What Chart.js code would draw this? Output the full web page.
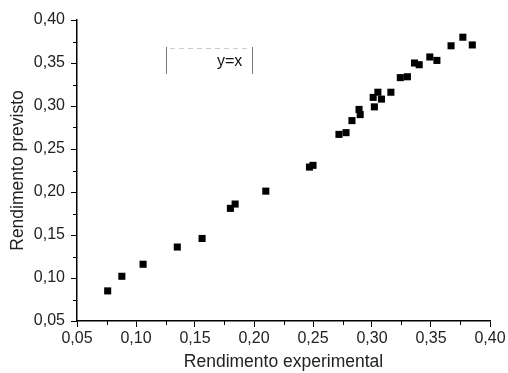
<!DOCTYPE html>
<html>
<head>
<meta charset="utf-8">
<script src="https://cdn.jsdelivr.net/npm/chart.js@4"></script>
<style>
  html, body { margin: 0; padding: 0; background: #fff; }
  #wrap { width: 508px; height: 373px; }
</style>
</head>
<body>
<div id="wrap"><canvas id="chart" width="508" height="373"></canvas></div>
<script>
// valori
const experimental = [0.076, 0.088, 0.106, 0.135, 0.156, 0.180, 0.184, 0.210,
  0.247, 0.250, 0.272, 0.278, 0.283, 0.289, 0.290, 0.302, 0.301, 0.305, 0.308,
  0.316, 0.324, 0.330, 0.336, 0.340, 0.349, 0.355, 0.367, 0.377, 0.385];
const predicted = [0.085, 0.102, 0.116, 0.136, 0.146, 0.181, 0.186, 0.201,
  0.229, 0.231, 0.267, 0.269, 0.283, 0.296, 0.290, 0.299, 0.310, 0.316, 0.308,
  0.316, 0.333, 0.334, 0.350, 0.348, 0.357, 0.353, 0.370, 0.380, 0.371];
const xTicks = [0.05, 0.10, 0.15, 0.20, 0.25, 0.30, 0.35, 0.40];
const yTicks = [0.05, 0.10, 0.15, 0.20, 0.25, 0.30, 0.35, 0.40];
const legendLabel = 'y=x';

const points = experimental.map((x, i) => ({x: x, y: predicted[i]}));
const fmt = v => v.toFixed(2).replace('.', ',');
const FONT = '"Liberation Sans", Arial, sans-serif';

// tacche secondarie a metà fra le principali
const minorTicks = {
  id: 'minorTicks',
  afterDraw(chart) {
    const ctx = chart.ctx;
    const xs = chart.scales.x, ys = chart.scales.y;
    ctx.save();
    ctx.strokeStyle = '#000';
    ctx.lineWidth = 1;
    for (let i = 0; i < xTicks.length - 1; i++) {
      const px = Math.round(xs.getPixelForValue((xTicks[i] + xTicks[i + 1]) / 2)) + 0.5;
      ctx.beginPath(); ctx.moveTo(px, ys.bottom); ctx.lineTo(px, ys.bottom + 4); ctx.stroke();
    }
    for (let i = 0; i < yTicks.length - 1; i++) {
      const py = Math.round(ys.getPixelForValue((yTicks[i] + yTicks[i + 1]) / 2)) + 0.5;
      ctx.beginPath(); ctx.moveTo(xs.left - 4, py); ctx.lineTo(xs.left, py); ctx.stroke();
    }
    ctx.restore();
  }
};

// riquadro della legenda
const legendBox = {
  id: 'legendBox',
  afterDraw(chart) {
    const ctx = chart.ctx;
    const l = 166, r = 252, t = 47, b = 74;
    ctx.save();
    ctx.strokeStyle = '#777';
    ctx.lineWidth = 1;
    ctx.beginPath();
    ctx.moveTo(l + 0.5, t); ctx.lineTo(l + 0.5, b);
    ctx.moveTo(r + 0.5, t); ctx.lineTo(r + 0.5, b);
    ctx.stroke();
    ctx.strokeStyle = '#ccc';
    ctx.setLineDash([5, 4]);
    ctx.beginPath(); ctx.moveTo(l + 4, t + 1.5); ctx.lineTo(r - 2, t + 1.5); ctx.stroke();
    ctx.setLineDash([]);
    ctx.fillStyle = '#111';
    ctx.font = '16px ' + FONT;
    ctx.textAlign = 'left';
    ctx.textBaseline = 'middle';
    ctx.fillText(legendLabel, 217, 62);
    ctx.restore();
  }
};

new Chart(document.getElementById('chart'), {
  type: 'scatter',
  data: {
    datasets: [{
      label: 'dati',
      data: points,
      pointStyle: 'rect',
      pointRadius: 5,
      pointHoverRadius: 5,
      backgroundColor: '#000',
      borderColor: '#000',
      borderWidth: 0
    }]
  },
  options: {
    responsive: false,
    animation: false,
    layout: { padding: { top: 20, right: 18, left: 0, bottom: 0 } },
    plugins: { legend: { display: false }, tooltip: { enabled: false } },
    scales: {
      x: {
        type: 'linear',
        min: 0.05, max: 0.40,
        afterBuildTicks: s => { s.ticks = xTicks.map(v => ({value: v})); },
        afterFit: s => { s.height = 52; },
        ticks: {
          callback: v => fmt(v),
          color: '#222',
          font: { family: FONT, size: 16 },
          padding: 2,
          maxRotation: 0,
          autoSkip: false
        },
        grid: { drawOnChartArea: false, drawTicks: true, tickLength: 6, color: '#000', tickWidth: 1 },
        border: { color: '#000', width: 1.5 },
        title: {
          display: true,
          text: 'Rendimento experimental',
          color: '#222',
          font: { family: FONT, size: 17.5 },
          padding: { top: 4, bottom: 0 }
        }
      },
      y: {
        type: 'linear',
        min: 0.05, max: 0.40,
        afterBuildTicks: s => { s.ticks = yTicks.map(v => ({value: v})); },
        afterFit: s => { s.width = 77; },
        ticks: {
          callback: v => fmt(v),
          color: '#222',
          font: { family: FONT, size: 16 },
          padding: 6,
          autoSkip: false
        },
        grid: { drawOnChartArea: false, drawTicks: true, tickLength: 6, color: '#000', tickWidth: 1 },
        border: { color: '#000', width: 1.5 },
        title: {
          display: true,
          text: 'Rendimento previsto',
          color: '#222',
          font: { family: FONT, size: 17.5 },
          padding: { top: 8, bottom: 0 }
        }
      }
    }
  },
  plugins: [minorTicks, legendBox]
});
</script>
</body>
</html>
